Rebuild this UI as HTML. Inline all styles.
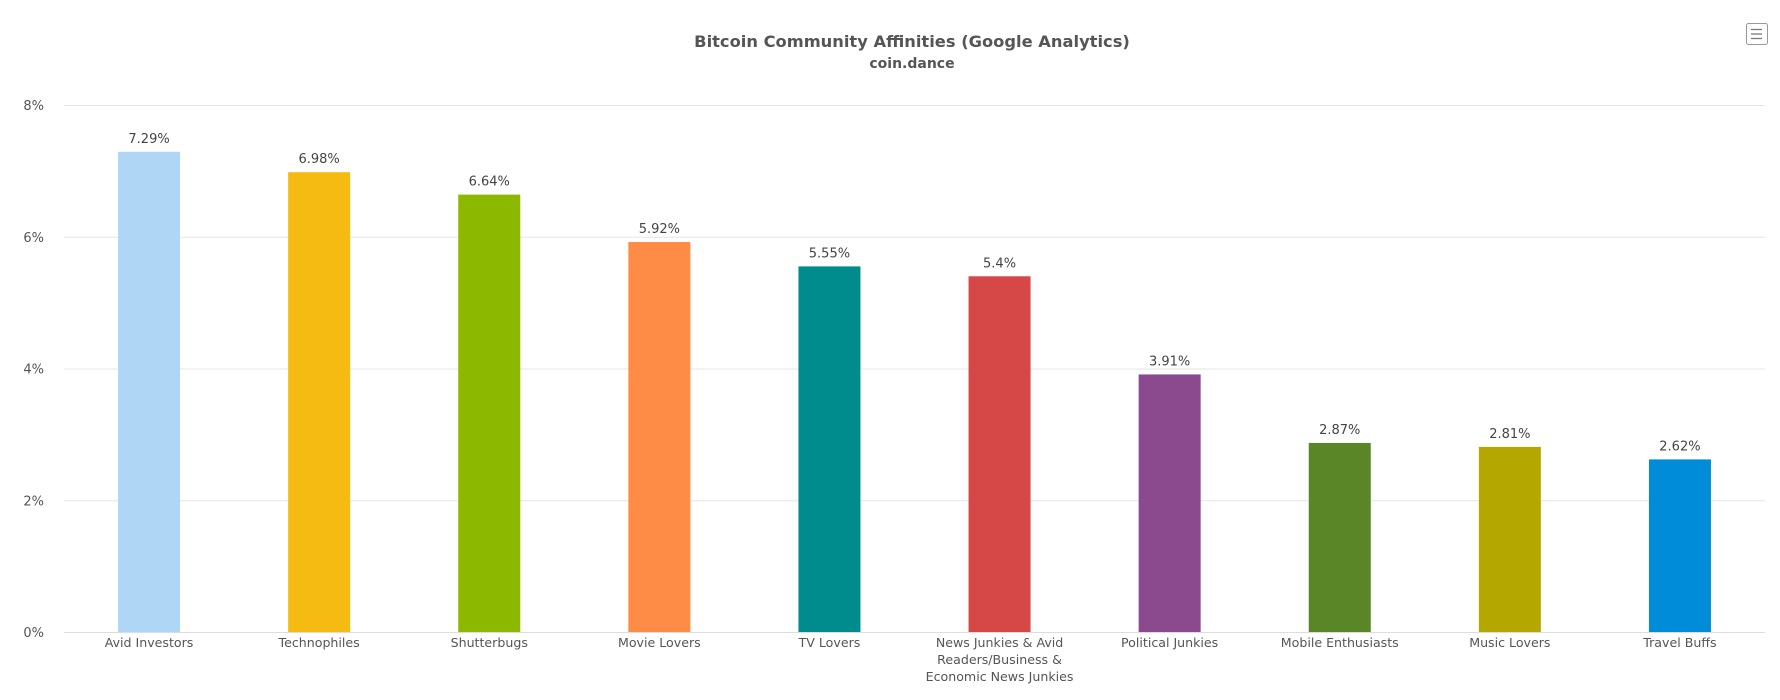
<!DOCTYPE html>
<html><head><meta charset="utf-8"><style>
body{margin:0;background:#fff;width:1780px;height:695px;overflow:hidden}
svg text{font-family:"DejaVu Sans","Liberation Sans",sans-serif}
</style></head><body>
<svg id="chart" width="1780" height="695" xmlns="http://www.w3.org/2000/svg">
<text x="912" y="47" text-anchor="middle" font-size="16.3" font-weight="bold" fill="#555">Bitcoin Community Affinities (Google Analytics)</text>
<text x="912" y="68" text-anchor="middle" font-size="14" font-weight="bold" fill="#555">coin.dance</text>
<g>
<rect x="1746.5" y="23.5" width="21" height="21" rx="2" fill="#fff" stroke="#999"/>
<path d="M1751 29.5h11M1751 34h11M1751 38.5h11" stroke="#777" stroke-width="1.3"/>
</g>
<g id="grid"></g><g id="bars"></g><g id="labels"></g>
</svg>
<script>
const categories=["Avid Investors","Technophiles","Shutterbugs","Movie Lovers","TV Lovers","News Junkies & Avid|Readers/Business &|Economic News Junkies","Political Junkies","Mobile Enthusiasts","Music Lovers","Travel Buffs"];
const values=[7.29,6.98,6.64,5.92,5.55,5.4,3.91,2.87,2.81,2.62];
const valueLabels=["7.29%","6.98%","6.64%","5.92%","5.55%","5.4%","3.91%","2.87%","2.81%","2.62%"];
const colors=["#b0d6f5","#f5bb12","#8cb900","#ff8c46","#008c8c","#d64848","#8b4a8e","#5a8627","#b4a800","#008cd8"];
const ticks=[0,2,4,6,8];
const tickLabels=["0%","2%","4%","6%","8%"];
const NS="http://www.w3.org/2000/svg";
const L=64,R=1765,T=105,B=632,yMax=8;
const y=v=>B-(v/yMax)*(B-T);
const step=(R-L)/categories.length;
const x=i=>L+step*(i+0.5);
function mk(t,a,p){const e=document.createElementNS(NS,t);for(const k in a)e.setAttribute(k,a[k]);p.appendChild(e);return e;}
const grid=document.getElementById('grid'),bars=document.getElementById('bars'),labels=document.getElementById('labels');
ticks.forEach((t,i)=>{
 const ln=mk('line',{x1:L,x2:R,y1:y(t)+0.5,y2:y(t)+0.5,stroke:t===0?'#ddd':'#e6e6e6'},grid);
 
 
 const tx=mk('text',{x:44,y:y(t)+5,'text-anchor':'end','font-size':13,fill:'#555'},grid);
 tx.textContent=tickLabels[i];
 
 
});
const bw=62;
values.forEach((v,i)=>{
 const r=mk('rect',{x:x(i)-bw/2,y:y(v),width:bw,height:B-y(v),fill:colors[i]},bars);
 
 
 const t=mk('text',{x:x(i),y:y(v)-9,'text-anchor':'middle','font-size':13,fill:'#444'},labels);
 t.textContent=valueLabels[i];
 
 
 categories[i].split('|').forEach((line,j)=>{
  const c=mk('text',{x:x(i),y:B+15+j*17,'text-anchor':'middle','font-size':12.6,fill:'#555'},labels);
  c.textContent=line;
  
  
 });
});
</script>
</body></html>
